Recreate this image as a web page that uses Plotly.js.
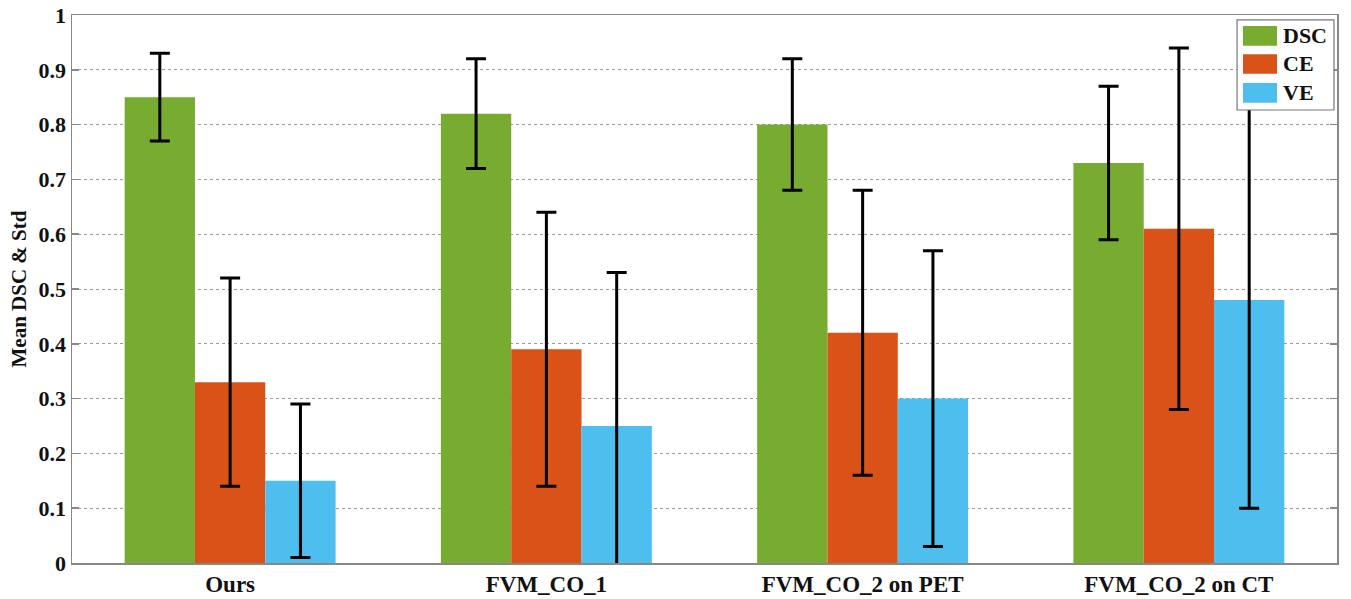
<!DOCTYPE html>
<html>
<head>
<meta charset="utf-8">
<script src="https://cdn.plot.ly/plotly-2.35.2.min.js"></script>
<style>html,body{margin:0;padding:0;background:#fff;}#chart{width:1351px;height:599px;}</style>
</head>
<body>
<div id="chart"></div>
<script>
// Methods compared
const methods = ['Ours', 'FVM_CO_1', 'FVM_CO_2 on PET', 'FVM_CO_2 on CT'];

// Metric names
const seriesNames = ['DSC', 'CE', 'VE'];

// Means per metric
const dscMean = [0.85, 0.82, 0.80, 0.73];
const ceMean  = [0.33, 0.39, 0.42, 0.61];
const veMean  = [0.15, 0.25, 0.30, 0.48];

// Standard deviations per metric
const dscStd = [0.08, 0.10, 0.12, 0.14];
const ceStd  = [0.19, 0.25, 0.26, 0.33];
const veStd  = [0.14, 0.28, 0.27, 0.38];

const yTicks = [0, 0.1, 0.2, 0.3, 0.4, 0.5, 0.6, 0.7, 0.8, 0.9, 1];

const colors = ['#77AC30', '#D95319', '#4DBEEE'];
const means = [dscMean, ceMean, veMean];
const stds = [dscStd, ceStd, veStd];

const serif = 'Liberation Serif, Times New Roman, serif';

const traces = seriesNames.map((name, i) => ({
  type: 'bar',
  name: name,
  x: methods,
  y: means[i],
  marker: {color: colors[i], line: {width: 0}},
  error_y: {type: 'data', array: stds[i], visible: true, color: '#000', thickness: 3, width: 10},
  showlegend: false
}));

// Boxed legend in the top-right corner of the plot
const legX0 = 0.921, legX1 = 0.9976, legY0 = 0.8266, legY1 = 0.991;
const rowY = [0.9617, 0.9106, 0.8577];
const shapes = [{
  type: 'rect', xref: 'paper', yref: 'paper', layer: 'above',
  x0: legX0, x1: legX1, y0: legY0, y1: legY1,
  fillcolor: '#fff', line: {color: '#777', width: 1.2}
}];
const annotations = [];
seriesNames.forEach((name, i) => {
  const yc = rowY[i];
  shapes.push({
    type: 'rect', xref: 'paper', yref: 'paper', layer: 'above',
    x0: 0.9257, x1: 0.9526, y0: yc - 0.018, y1: yc + 0.018,
    fillcolor: colors[i], line: {width: 0}
  });
  annotations.push({
    xref: 'paper', yref: 'paper', x: 0.9555, y: yc,
    xanchor: 'left', yanchor: 'middle', showarrow: false,
    text: '<b>' + name + '</b>', font: {family: serif, size: 22, color: '#111'}
  });
});

const layout = {
  width: 1351, height: 599,
  margin: {l: 72, r: 14, t: 15, b: 36},
  paper_bgcolor: '#fff', plot_bgcolor: '#fff',
  barmode: 'group', bargap: 0.333, bargroupgap: 0,
  font: {family: serif, color: '#111'},
  xaxis: {
    type: 'category', range: [-0.5, 3.5],
    showline: true, mirror: true, linecolor: '#888', linewidth: 1.5,
    ticks: '', showgrid: false, zeroline: false,
    tickfont: {family: serif, size: 23, color: '#111'},
    tickvals: methods, ticktext: methods.map(m => '<b>' + m + '</b>')
  },
  yaxis: {
    range: [0, 1], tickvals: yTicks,
    ticktext: yTicks.map(v => '<b>' + v + '</b>'),
    showline: true, mirror: 'ticks', linecolor: '#888', linewidth: 1.5,
    ticks: 'inside', ticklen: 7, tickcolor: '#888', tickwidth: 1.5,
    showgrid: true, gridcolor: '#9a9a9a', griddash: 'dot', gridwidth: 1,
    zeroline: false,
    tickfont: {family: serif, size: 22, color: '#111'},
    title: {text: '<b>Mean DSC &amp; Std</b>', font: {family: serif, size: 21, color: '#111'}, standoff: 6}
  },
  shapes: shapes,
  annotations: annotations
};

Plotly.newPlot('chart', traces, layout, {displayModeBar: false, staticPlot: true});
</script>
</body>
</html>
